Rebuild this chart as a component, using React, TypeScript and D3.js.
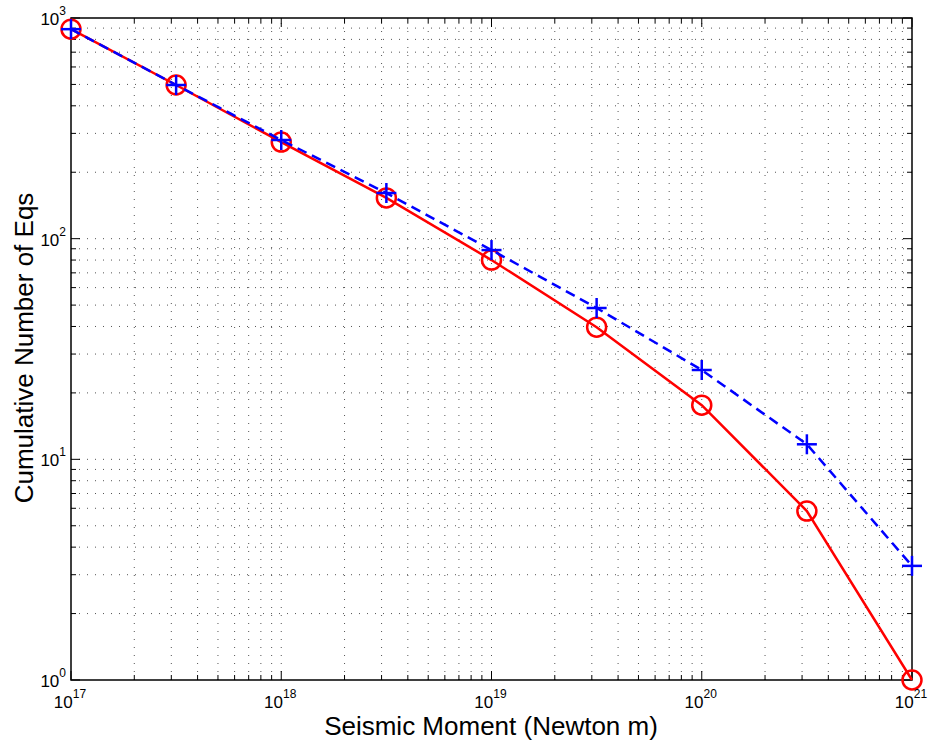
import React from "react";
import * as d3 from "d3";

const moments = [1e17, 10 ** 17.5, 1e18, 10 ** 18.5, 1e19, 10 ** 19.5, 1e20, 10 ** 20.5, 1e21];
const observed = [890, 497, 274, 153, 80, 39.7, 17.6, 5.83, 1];
const modeled = [890, 497, 280, 161, 88.8, 48.5, 25.4, 11.7, 3.29];
const xTickExps = [17, 18, 19, 20, 21];
const yTickExps = [0, 1, 2, 3];

const W = 929;
const H = 747;
const M = { left: 71, right: 17, top: 18, bottom: 67 };

export default function App() {
  const x = d3.scaleLog().domain([1e17, 1e21]).range([M.left, W - M.right]);
  const y = d3.scaleLog().domain([1, 1000]).range([H - M.bottom, M.top]);
  const [x0, x1] = x.range();
  const [y0, y1] = y.range();

  const xGrid: number[] = [];
  for (let e = 17; e < 21; e++) for (let k = 1; k <= 9; k++) xGrid.push(k * 10 ** e);
  xGrid.push(1e21);
  const yGrid: number[] = [];
  for (let e = 0; e < 3; e++) for (let k = 1; k <= 9; k++) yGrid.push(k * 10 ** e);
  yGrid.push(1000);

  const line = d3
    .line<number>()
    .x((_, i) => x(moments[i]))
    .y((d) => y(d));

  const isMajor = (v: number) => Math.abs(Math.log10(v) - Math.round(Math.log10(v))) < 1e-9;

  const font = "Liberation Sans, Arial, Helvetica, sans-serif";

  return (
    <svg width={W} height={H} style={{ position: "absolute", left: 0, top: 0, background: "#fff" }} fontFamily={font}>
      <rect x={0} y={0} width={W} height={H} fill="#fff" />
      {/* grid */}
      <g stroke="#555" strokeWidth={1} strokeDasharray="1,7" fill="none">
        {xGrid.map((v, i) =>
          v > 1e17 && v < 1e21 ? <line key={"gx" + i} x1={x(v)} x2={x(v)} y1={y0} y2={y1} /> : null
        )}
        {yGrid.map((v, i) =>
          v > 1 && v < 1000 ? <line key={"gy" + i} x1={x0} x2={x1} y1={y(v)} y2={y(v)} /> : null
        )}
      </g>
      {/* ticks */}
      <g stroke="#000" strokeWidth={1}>
        {xGrid.map((v, i) => {
          const L = isMajor(v) ? 9 : 5;
          return (
            <g key={"tx" + i}>
              <line x1={x(v)} x2={x(v)} y1={y0} y2={y0 - L} />
              <line x1={x(v)} x2={x(v)} y1={y1} y2={y1 + L} />
            </g>
          );
        })}
        {yGrid.map((v, i) => {
          const L = isMajor(v) ? 9 : 5;
          return (
            <g key={"ty" + i}>
              <line x1={x0} x2={x0 + L} y1={y(v)} y2={y(v)} />
              <line x1={x1} x2={x1 - L} y1={y(v)} y2={y(v)} />
            </g>
          );
        })}
      </g>
      <rect x={x0} y={y1} width={x1 - x0} height={y0 - y1} fill="none" stroke="#000" strokeWidth={1.5} />
      {/* series */}
      <path d={line(observed) ?? ""} fill="none" stroke="#ff0000" strokeWidth={2.5} />
      {observed.map((v, i) => (
        <circle key={"c" + i} cx={x(moments[i])} cy={y(v)} r={9.5} fill="none" stroke="#ff0000" strokeWidth={2.5} />
      ))}
      <path d={line(modeled) ?? ""} fill="none" stroke="#0000ff" strokeWidth={2.5} strokeDasharray="10,6" />
      {modeled.map((v, i) => {
        const cx = x(moments[i]);
        const cy = y(v);
        return (
          <g key={"p" + i} stroke="#0000ff" strokeWidth={2.5}>
            <line x1={cx - 10} x2={cx + 10} y1={cy} y2={cy} />
            <line x1={cx} x2={cx} y1={cy - 10} y2={cy + 10} />
          </g>
        );
      })}
      {/* tick labels */}
      {xTickExps.map((e) => (
        <text key={"xl" + e} x={x(10 ** e) - 1} y={y0 + 28} fontSize={17} textAnchor="middle" fill="#000">
          10
          <tspan fontSize={12} dy={-10}>
            {e}
          </tspan>
        </text>
      ))}
      {yTickExps.map((e) => (
        <text key={"yl" + e} x={x0 - 5} y={y(10 ** e) + 7} fontSize={17} textAnchor="end" fill="#000">
          10
          <tspan fontSize={12} dy={-10}>
            {e}
          </tspan>
        </text>
      ))}
      {/* axis labels */}
      <text x={491} y={735} fontSize={26} textAnchor="middle" fill="#000">
        Seismic Moment (Newton m)
      </text>
      <text
        transform={`translate(33, 348) rotate(-90)`}
        fontSize={26}
        textAnchor="middle"
        fill="#000"
      >
        Cumulative Number of Eqs
      </text>
    </svg>
  );
}
